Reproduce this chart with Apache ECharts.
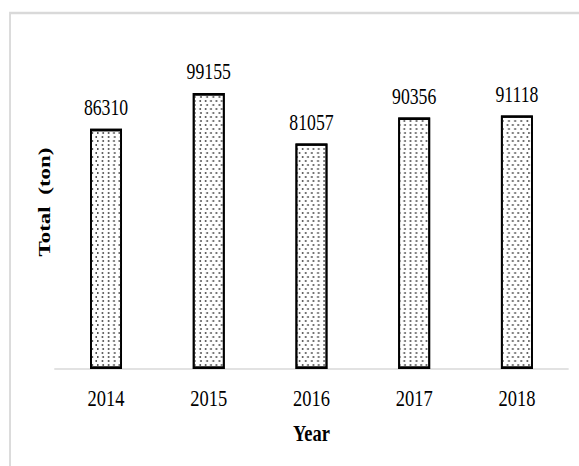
<!DOCTYPE html>
<html><head><meta charset="utf-8">
<script src="https://cdn.jsdelivr.net/npm/echarts@6/dist/echarts.min.js"></script>
<style>html,body{margin:0;padding:0;background:#fff;overflow:hidden}
#wrap{width:579px;height:466px;overflow:hidden}
#c{width:752px;height:466px;transform:scaleX(0.77);transform-origin:0 0}</style>
</head><body><div id="wrap"><div id="c"></div></div>
<script>
const years = ['2014','2015','2016','2017','2018'];
const totals = [86310, 99155, 81057, 90356, 91118];
const chart = echarts.init(document.getElementById('c'), null, {renderer:'svg'});
chart.setOption({
  animation:false,
  backgroundColor:'#fff',
  graphic:[{type:'rect',shape:{x:13,y:13,width:900,height:500},style:{fill:'none',stroke:'#d9d9d9',lineWidth:2.4},silent:true,z:-1}],
  grid:{left:71,right:14,top:35,bottom:97},
  xAxis:{type:'category',data:years,
    axisLine:{lineStyle:{color:'#d9d9d9',width:1.5}},axisTick:{show:false},
    axisLabel:{fontFamily:'Liberation Serif',fontSize:24,color:'#000',margin:17},
    name:'Year',nameLocation:'middle',nameGap:52,
    nameTextStyle:{fontFamily:'Liberation Serif',fontSize:24,fontWeight:'bold',color:'#000'}},
  yAxis:{type:'value',min:0,max:120000,show:true,
    axisLine:{show:false},axisTick:{show:false},axisLabel:{show:false},splitLine:{show:false},
    name:'Total  (ton)',nameLocation:'middle',nameGap:3,nameRotate:90,
    nameTextStyle:{fontFamily:'Liberation Serif',fontSize:23,fontWeight:'bold',color:'#000'}},
  series:[{type:'bar',data:totals,barWidth:41.5,
    itemStyle:{color:'#fff',borderColor:'#000',borderWidth:2.4,
      decal:{symbol:'rect',symbolSize:1,dashArrayX:[[1.5,5],[0,3.25,1.5,1.75]],dashArrayY:[1.2,1.3],color:'#555',rotation:0}},
    label:{show:true,position:'top',distance:10,fontFamily:'Liberation Serif',fontSize:23,color:'#000'}}]
});
</script></body></html>
